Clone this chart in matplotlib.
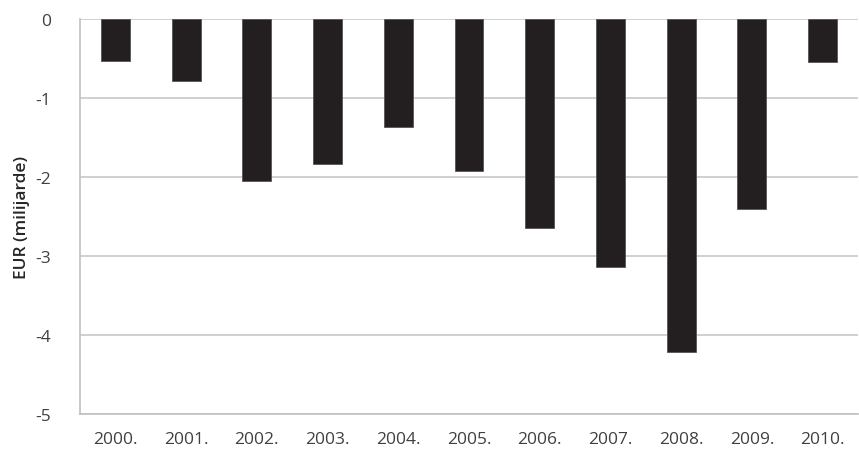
import matplotlib
matplotlib.use("Agg")
import matplotlib.pyplot as plt

years = ["2000.", "2001.", "2002.", "2003.", "2004.", "2005.", "2006.", "2007.", "2008.", "2009.", "2010."]
values = [-0.53, -0.79, -2.05, -1.83, -1.37, -1.92, -2.64, -3.14, -4.22, -2.40, -0.55]
yticks = [0, -1, -2, -3, -4, -5]
ylabel = "EUR (milijarde)"

plt.rcParams['font.family'] = ['Open Sans', 'DejaVu Sans']

fig = plt.figure(figsize=(8.59, 4.52), dpi=100)
ax = fig.add_axes([80/859, 1-415/452, 778/859, 395/452])

x = list(range(len(years)))
ax.bar(x, values, width=0.41, color="#231f20", edgecolor="#555555", linewidth=0.6, zorder=3)

ax.set_xlim(-0.5, len(years) - 0.5)
ax.set_ylim(-5, 0)
ax.set_yticks(yticks)
ax.set_yticklabels([str(t) for t in yticks])
ax.set_xticks(x)
ax.set_xticklabels(years)

ax.grid(axis="y", color="#c8c8c8", linewidth=1.2, zorder=0)
for s in ["top", "right"]:
    ax.spines[s].set_visible(False)
ax.spines["left"].set_color("#c0c0c0")
ax.spines["bottom"].set_color("#c0c0c0")
ax.spines["left"].set_linewidth(1.2)
ax.spines["bottom"].set_linewidth(1.2)

ax.tick_params(axis="both", length=0, labelcolor="#404040", labelsize=12.5)
ax.tick_params(axis="y", pad=21)
ax.tick_params(axis="x", pad=12)

ax.set_ylabel(ylabel, fontsize=12.5, color="#262626", fontweight="semibold", labelpad=4)

fig.savefig("out.png", dpi=100)
